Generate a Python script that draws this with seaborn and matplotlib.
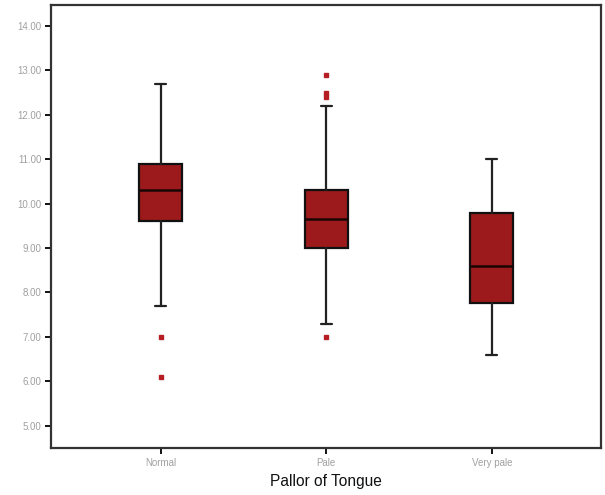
import matplotlib
matplotlib.use("Agg")
import matplotlib.pyplot as plt
import seaborn as sns

# Summary statistics of haemoglobin by tongue pallor group
groups = ["Normal", "Pale", "Very pale"]
whisker_low = [7.7, 7.3, 6.6]
q1 = [9.6, 9.0, 7.77]
median = [10.3, 9.65, 8.6]
q3 = [10.9, 10.3, 9.8]
whisker_high = [12.7, 12.2, 11.0]
outliers = [[7.0, 6.1], [12.9, 12.5, 12.4, 7.0], []]
y_ticks = [5, 6, 7, 8, 9, 10, 11, 12, 13, 14]

sns.set_theme(style="white")
plt.rcParams["font.family"] = ["Liberation Sans", "DejaVu Sans"]

fig = plt.figure(figsize=(6.05, 4.95), dpi=100)
ax = fig.add_axes([51 / 605, 1 - 448 / 495, 550 / 605, 443 / 495])

stats = [
    dict(label=g, whislo=wl, q1=a, med=m, q3=b, whishi=wh, fliers=f)
    for g, wl, a, m, b, wh, f in zip(groups, whisker_low, q1, median, q3,
                                     whisker_high, outliers)
]

box_fill = "#9c1a1c"
ax.bxp(
    stats,
    positions=range(len(groups)),
    widths=0.258,
    capwidths=0.068,
    patch_artist=True,
    boxprops=dict(facecolor=box_fill, edgecolor="#111111", linewidth=1.6),
    medianprops=dict(color="#1a0505", linewidth=1.8),
    whiskerprops=dict(color="#222222", linewidth=1.6),
    capprops=dict(color="#222222", linewidth=1.6),
    flierprops=dict(marker="s", markersize=2.6, markerfacecolor="#b51f24",
                    markeredgecolor="#b51f24", linestyle="none"),
)

ax.set_xlim(-0.663, 2.66)
ax.set_ylim(4.5, 14.47)
ax.set_yticks(y_ticks)
ax.set_yticklabels([f"{v:.2f}" for v in y_ticks])
ax.set_xticks(range(len(groups)))
ax.set_xticklabels(groups)

for side in ["left", "right", "top", "bottom"]:
    ax.spines[side].set_visible(True)
    ax.spines[side].set_color("#333333")
    ax.spines[side].set_linewidth(1.6)

ax.tick_params(axis="both", which="major", direction="out", length=4,
               width=1.4, color="#111111", labelsize=7, labelcolor="#a0a0a0",
               pad=3, bottom=True, left=True)
ax.set_xlabel("Pallor of Tongue", fontsize=11.2, color="#111111", labelpad=4.5)
ax.set_ylabel("")
ax.grid(False)

fig.savefig("out.png", dpi=100, facecolor="white")
